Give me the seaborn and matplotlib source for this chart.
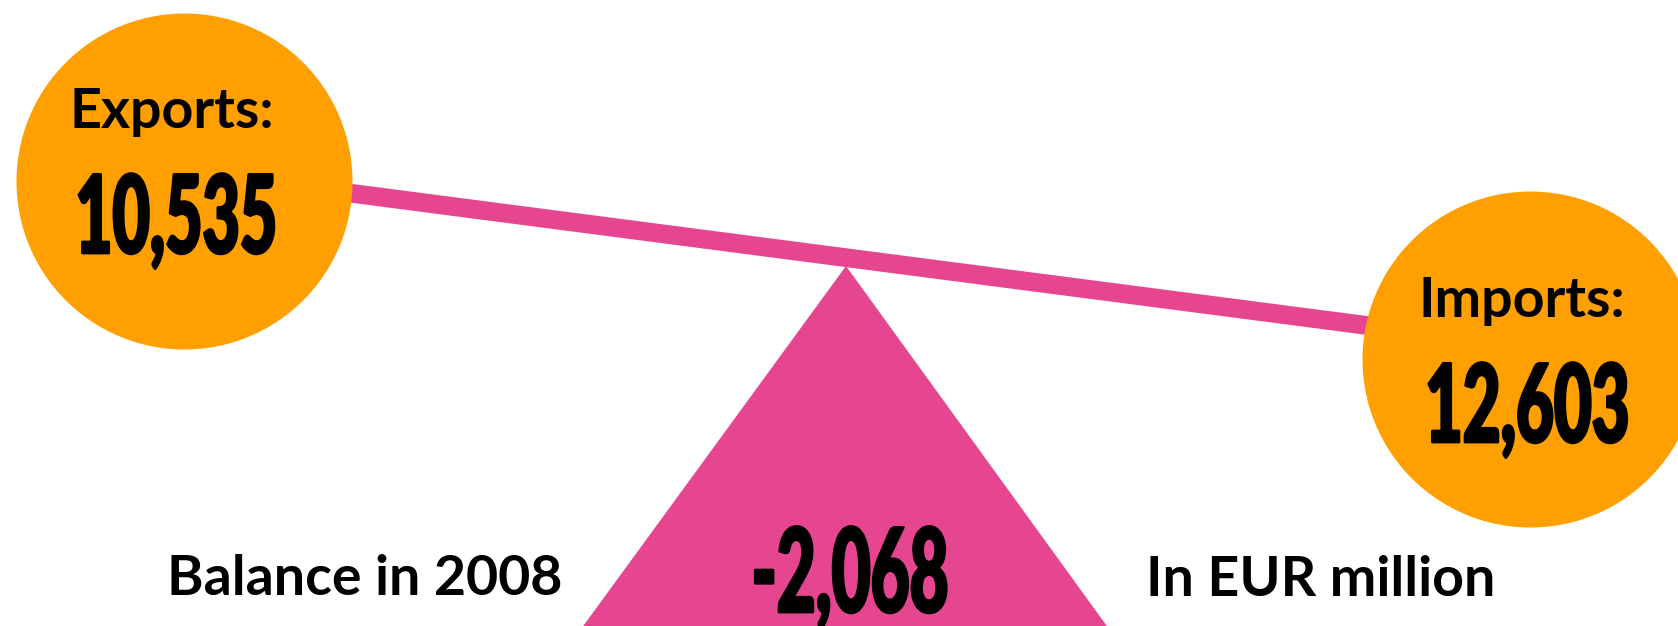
import matplotlib
matplotlib.use("Agg")
import matplotlib.pyplot as plt
import matplotlib.patheffects as pe
from matplotlib.transforms import Affine2D
import seaborn as sns
import pandas as pd

# Trade figures, EUR million
year = 2008
flow_labels = ["Exports:", "Imports:"]
flow_values = [10535, 12603]
unit_label = "In EUR million"
balance = flow_values[0] - flow_values[1]

ORANGE = "#ff9f00"
PINK = "#e5468f"

# layout in pixels (figure is 1678 x 626, y grows downwards)
W, H = 1678, 626
circle_x = [184, 1530]
circle_y = [180.5, 358.5]
circle_radius = 168
beam_x = [184, 1530]
beam_y = [171.5, 346.7]
label_x = [172, 1522]
label_y = [128, 317]
number_x = [176, 1527]
number_y = [253, 442]
number_width = [195, 198]


class Condensed(pe.AbstractPathEffect):
    """Heavy, condensed figures: squeeze glyphs to a width (px), stretch them
    vertically by `stretch` around the baseline and thicken with a stroke."""

    def __init__(self, width_px, stretch=1.0, stroke=2.0):
        super().__init__()
        self.width_px = width_px
        self.stretch = stretch
        self.stroke = stroke

    def draw_path(self, renderer, gc, tpath, affine, rgbFace=None):
        ext = tpath.get_extents()
        scale = affine.get_matrix()[0, 0]
        sx = self.width_px / (ext.width * scale)
        cx = (ext.x0 + ext.x1) / 2
        squeeze = Affine2D().translate(-cx, 0).scale(sx, self.stretch).translate(cx, 0)
        gc0 = renderer.new_gc()
        gc0.copy_properties(gc)
        gc0.set_linewidth(self.stroke)
        gc0.set_foreground(rgbFace)
        renderer.draw_path(gc0, tpath, squeeze + affine, rgbFace)
        gc0.restore()


sns.set_theme(style="white")
plt.rcParams["font.family"] = ["Lato", "DejaVu Sans"]
plt.rcParams["text.color"] = "black"

fig = plt.figure(figsize=(W / 100, H / 100), dpi=100)
ax = fig.add_axes([0, 0, 1, 1])

# the beam of the scale
sns.lineplot(x=beam_x, y=beam_y, color=PINK, linewidth=13.5, ax=ax,
             solid_capstyle="butt", zorder=1)

# the pivot
ax.fill([573, 846, 1117], [640, 266, 640], color=PINK, lw=0, zorder=1)

# the two weights
circles = pd.DataFrame({"x": circle_x, "y": circle_y, "flow": flow_labels})
sns.scatterplot(data=circles, x="x", y="y", s=(2 * circle_radius * 0.72) ** 2,
                color=ORANGE, linewidth=0, ax=ax, zorder=2, legend=False)

for i in range(2):
    ax.text(label_x[i], label_y[i], flow_labels[i], ha="center", va="baseline",
            fontsize=40, fontweight="bold", zorder=3)
    ax.text(number_x[i], number_y[i], f"{flow_values[i]:,}", ha="center",
            va="baseline", fontsize=56, fontweight=900, zorder=3,
            path_effects=[Condensed(number_width[i], stretch=78 / 56)])

ax.text(850, 612, f"{balance:,}", ha="center", va="baseline", fontsize=60,
        fontweight=900, zorder=3, path_effects=[Condensed(191, stretch=84 / 60)])
ax.text(167, 595, f"Balance in {year}", ha="left", va="baseline",
        fontsize=40, fontweight="bold", zorder=3)
ax.text(1146, 596, unit_label, ha="left", va="baseline",
        fontsize=40, fontweight="bold", zorder=3)

ax.set_xlim(0, W)
ax.set_ylim(H, 0)
ax.axis("off")

fig.savefig("out.png", dpi=100, facecolor="white")
